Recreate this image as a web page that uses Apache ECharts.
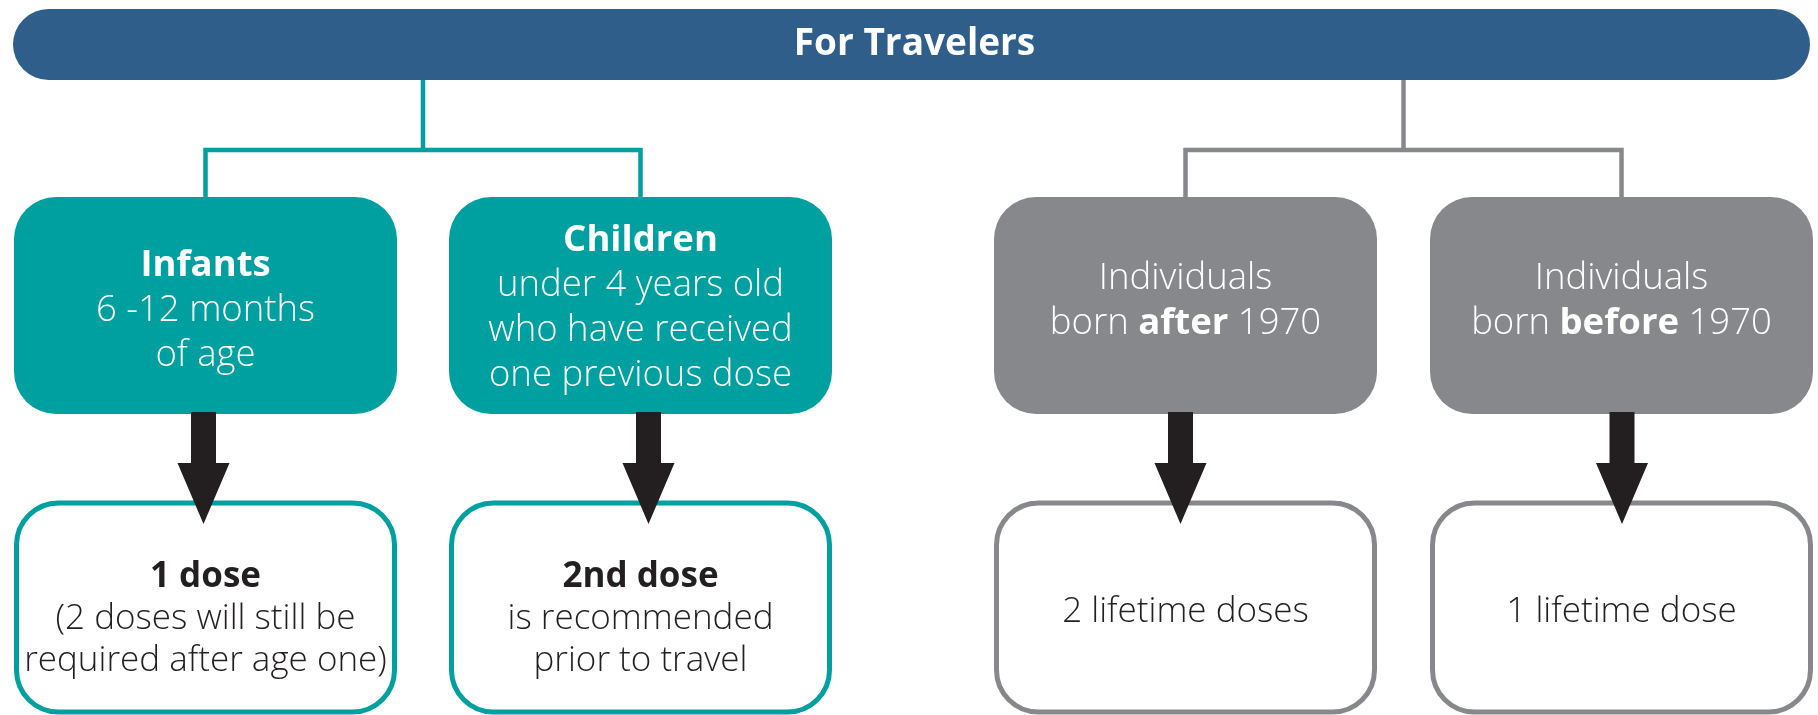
<!DOCTYPE html>
<html>
<head>
<meta charset="utf-8">
<title>For Travelers</title>
<script src="https://cdn.jsdelivr.net/npm/echarts@6/dist/echarts.min.js"></script>
<style>
  html, body { margin: 0; padding: 0; background: #fff; }
  #chart { width: 1818px; height: 715px; }
</style>
</head>
<body>
<div id="chart"></div>
<script>
/* Travel vaccination flow: header -> two branches -> four criteria -> four outcomes.
   Drawn with custom series on a hidden 0..1818 x 0..715 value grid, so every
   mark goes through api.coord / api.size. */

// ---- content ----
const title = 'For Travelers';
const branchOf = [0, 0, 1, 1];            // which branch each column hangs from
const criteria = [
  '{b|Infants}\n{n|6 -12 months}\n{n|of age}',
  '{b|Children}\n{n|under 4 years old}\n{n|who have received}\n{n|one previous dose}',
  '{n|Individuals}\n{n|born }{b|after}{n| 1970}',
  '{n|Individuals}\n{n|born }{b|before}{n| 1970}'
];
const outcomes = [
  '{b|1 dose}\n{n|(2 doses will still be}\n{n|required after age one)}',
  '{b|2nd dose}\n{n|is recommended}\n{n|prior to travel}',
  '{n|2 lifetime doses}',
  '{n|1 lifetime dose}'
];

// ---- layout (grid units == pixels) ----
const L = {
  bar: { x: 13, y: 9, w: 1797, h: 71 },
  colLeft: [14, 449, 994, 1430], colW: 383,
  box: { y: 197, h: 217 },
  out: { y: 503, h: 209 },
  joinY: 150,
  arrowX: [203.5, 648.5, 1180.5, 1622],
  arrow: { headY: 463, tipY: 524, shaft: 25, head: 52 },
  critDy: [5, 3, -4, -4],
  outDy: [12, 12, 5, 5]
};
const C = {
  bar: '#2f5e8a', branch: ['#00a0a1', '#87888c'],
  arrow: '#231f20', text: '#231f20', white: '#ffffff'
};
const FONT = "'Open Sans', 'Noto Sans', sans-serif";

function richStyle(color, fs, lh) {
  return {
    b: { fontFamily: FONT, fontWeight: 'bold', fontSize: fs, lineHeight: lh, fill: color, color: color },
    n: { fontFamily: FONT, fontWeight: 300, fontSize: fs, lineHeight: lh, fill: color, color: color }
  };
}

function rectShape(api, x, y, w, h, r) {
  const p = api.coord([x, y]);
  const s = api.size([w, h]);
  return { x: p[0], y: p[1], width: s[0], height: s[1], r: r };
}
const colCx = (i) => L.colLeft[i] + L.colW / 2;

const chart = echarts.init(document.getElementById('chart'));
chart.setOption({
  animation: false,
  grid: { left: 0, right: 0, top: 0, bottom: 0 },
  xAxis: { type: 'value', min: 0, max: 1818, show: false },
  yAxis: { type: 'value', min: 0, max: 715, inverse: true, show: false },
  series: [
    // branch connectors (drawn under the header bar and boxes)
    {
      type: 'custom', name: 'branches', silent: true,
      data: [0, 1].map((b) => [b]),
      renderItem: (params, api) => {
        const b = params.dataIndex;
        const cols = branchOf.map((v, i) => (v === b ? i : -1)).filter((i) => i >= 0);
        const xs = cols.map(colCx);
        const mid = (xs[0] + xs[xs.length - 1]) / 2;
        const pts = [
          [xs[0], L.box.y + 2], [xs[0], L.joinY],
          [xs[xs.length - 1], L.joinY], [xs[xs.length - 1], L.box.y + 2]
        ].map((p) => api.coord(p));
        const p1 = api.coord([mid, 60]), p2 = api.coord([mid, L.joinY]);
        return {
          type: 'group',
          children: [
            { type: 'line', shape: { x1: p1[0], y1: p1[1], x2: p2[0], y2: p2[1] },
              style: { stroke: C.branch[b], lineWidth: 4.5 } },
            { type: 'polyline', shape: { points: pts },
              style: { stroke: C.branch[b], lineWidth: 4.5, fill: null, lineJoin: 'miter' } }
          ]
        };
      }
    },
    // header bar
    {
      type: 'custom', name: 'header', silent: true,
      data: [[0]],
      renderItem: (params, api) => {
        const c = api.coord([L.bar.x + L.bar.w / 2 + 3, L.bar.y + L.bar.h / 2]);
        return {
          type: 'group',
          children: [
            { type: 'rect', shape: rectShape(api, L.bar.x, L.bar.y, L.bar.w, L.bar.h, L.bar.h / 2),
              style: { fill: C.bar } },
            { type: 'text', style: {
                text: title, x: c[0], y: c[1], align: 'center', verticalAlign: 'middle',
                fill: C.white, font: 'bold 37px ' + FONT } }
          ]
        };
      }
    },
    // outcome boxes (outlined)
    {
      type: 'custom', name: 'outcomes', silent: true,
      data: outcomes.map((t, i) => [i]),
      renderItem: (params, api) => {
        const i = params.dataIndex;
        const col = C.branch[branchOf[i]];
        const c = api.coord([colCx(i), L.out.y + L.out.h / 2 + L.outDy[i]]);
        return {
          type: 'group',
          children: [
            { type: 'rect', shape: rectShape(api, L.colLeft[i] + 2.5, L.out.y, L.colW - 5, L.out.h, 42),
              style: { fill: '#fff', stroke: col, lineWidth: 5 } },
            { type: 'text', style: {
                text: outcomes[i], x: c[0], y: c[1], align: 'center', verticalAlign: 'middle',
                rich: richStyle(C.text, 35, 42) } }
          ]
        };
      }
    },
    // criteria boxes (filled)
    {
      type: 'custom', name: 'criteria', silent: true,
      data: criteria.map((t, i) => [i]),
      renderItem: (params, api) => {
        const i = params.dataIndex;
        const c = api.coord([colCx(i), L.box.y + L.box.h / 2 + L.critDy[i]]);
        return {
          type: 'group',
          children: [
            { type: 'rect', shape: rectShape(api, L.colLeft[i], L.box.y, L.colW, L.box.h, 42),
              style: { fill: C.branch[branchOf[i]] } },
            { type: 'text', style: {
                text: criteria[i], x: c[0], y: c[1], align: 'center', verticalAlign: 'middle',
                rich: richStyle(C.white, 36.5, 45) } }
          ]
        };
      }
    },
    // arrows criteria -> outcome
    {
      type: 'custom', name: 'arrows', silent: true,
      data: criteria.map((t, i) => [i]),
      renderItem: (params, api) => {
        const x = L.arrowX[params.dataIndex];
        const a = L.arrow;
        const top = L.box.y + L.box.h - 2;
        const pts = [
          [x - a.shaft / 2, top], [x + a.shaft / 2, top], [x + a.shaft / 2, a.headY],
          [x + a.head / 2, a.headY], [x, a.tipY], [x - a.head / 2, a.headY],
          [x - a.shaft / 2, a.headY]
        ].map((p) => api.coord(p));
        return { type: 'polygon', shape: { points: pts }, style: { fill: C.arrow } };
      }
    }
  ]
});
</script>
</body>
</html>
